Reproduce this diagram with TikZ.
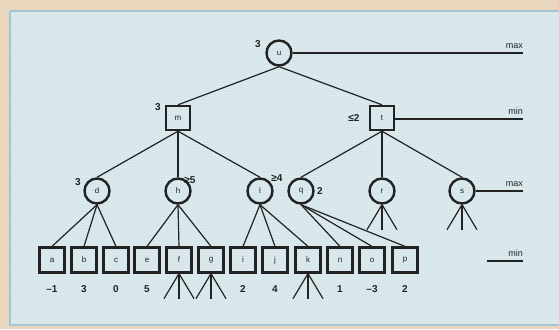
\documentclass[tikz,border=0pt]{standalone}
\usepackage{fontspec}
\setmainfont{Liberation Sans}
\definecolor{panel}{HTML}{D6E6EA}
\definecolor{panelborder}{HTML}{A3C7D0}
\definecolor{outside}{HTML}{E8D7BD}
\definecolor{ink}{HTML}{222222}
\begin{document}
\begin{tikzpicture}[x=1pt,y=-1pt,
  maxnode/.style={circle,draw=ink,line width=2.4pt,minimum size=25pt,inner sep=0pt,font=\fontsize{8}{8}\selectfont,text=ink},
  minnode/.style={rectangle,draw=ink,line width=2.4pt,minimum size=24pt,inner sep=0pt,font=\fontsize{8}{8}\selectfont,text=ink},
  leaf/.style={rectangle,draw=ink,line width=2.2pt,minimum size=25pt,inner sep=0pt,font=\fontsize{8}{8}\selectfont,text=ink},
  edge/.style={draw=ink,line width=1.2pt},
  lvl/.style={draw=ink,line width=1.2pt},
  lbl/.style={font=\fontsize{10}{10}\selectfont\bfseries,text=ink,inner sep=0pt},
  val/.style={font=\fontsize{10}{10}\selectfont\bfseries,text=ink,inner sep=0pt},
  lvltext/.style={font=\fontsize{9}{9}\selectfont,text=ink,inner sep=0pt}
]
\useasboundingbox (0,0) rectangle (559,329);
\fill[outside] (0,0) rectangle (559,329);
\fill[panel] (9,10) rectangle (559,326);
\draw[panelborder,line width=2pt] (10,11) -- (10,325) -- (559,325);
\draw[panelborder,line width=2pt] (10,11) -- (559,11);
\foreach \yy in {14,17,...,323} {\draw[white,opacity=0.18,line width=0.6pt] (11,\yy) -- (559,\yy);}

% tree nodes
\node[maxnode] (u) at (279,53) {u};
\node[minnode] (m) at (178,118) {m};
\node[minnode] (t) at (382,118) {t};
\node[maxnode] (d) at (97,191) {d};
\node[maxnode] (h) at (178,191) {h};
\node[maxnode] (l) at (260,191) {l};
\node[maxnode] (q) at (301,191) {q};
\node[maxnode] (r) at (382,191) {r};
\node[maxnode] (s) at (462,191) {s};
\foreach \n/\x in {a/52,b/84,c/116,e/147,f/179,g/211,i/243,j/275,k/308,n/340,o/372,p/405}
  {\node[leaf] (\n) at (\x,260) {\n};}

% values
\foreach \n/\v in {a/–1,b/3,c/0,e/5,i/2,j/4,n/1,o/–3,p/2}
  {\node[val] (v\n) at ([yshift=-29pt]\n.center) {\v};}

% backed-up labels
\node[lbl] (lu) at (258,44) {3};
\node[lbl] (lm) at (158,107) {3};
\node[lbl] (lt) at (354,118) {≤2};
\node[lbl] (ld) at (78,182) {3};
\node[lbl] (lh) at (190,180) {≥5};
\node[lbl] (ll) at (277,178) {≥4};
\node[lbl] (lq) at (320,191) {2};

% edges
\foreach \p/\c in {u/m,u/t,m/d,m/h,m/l,t/q,t/r,t/s,d/a,d/b,d/c,h/e,h/f,h/g,l/i,l/j,l/k,q/n,q/o,q/p}
  {\draw[edge] (\p.south) -- (\c.north);}

% stubs
\foreach \n in {f,g,k,r,s}
  {\draw[edge] (\n.south) -- ++(-15,25);
   \draw[edge] (\n.south) -- ++(0,25);
   \draw[edge] (\n.south) -- ++(15,25);}

% level markers
\coordinate (e1) at (523,53);
\coordinate (e2) at (523,119);
\coordinate (e3) at (523,191);
\coordinate (e4a) at (487,261);
\coordinate (e4b) at (523,261);
\draw[lvl] (u.east) -- (e1);
\draw[lvl] (t.east |- e2) -- (e2);
\draw[lvl] (s.east) -- (e3);
\draw[lvl] (e4a) -- (e4b);
\node[lvltext,anchor=south east] (tmax1) at ([yshift=4pt]e1) {max};
\node[lvltext,anchor=south east] (tmin1) at ([yshift=4pt]e2) {min};
\node[lvltext,anchor=south east] (tmax2) at ([yshift=4pt]e3) {max};
\node[lvltext,anchor=south east] (tmin2) at ([yshift=4pt]e4b) {min};
\end{tikzpicture}
\end{document}
